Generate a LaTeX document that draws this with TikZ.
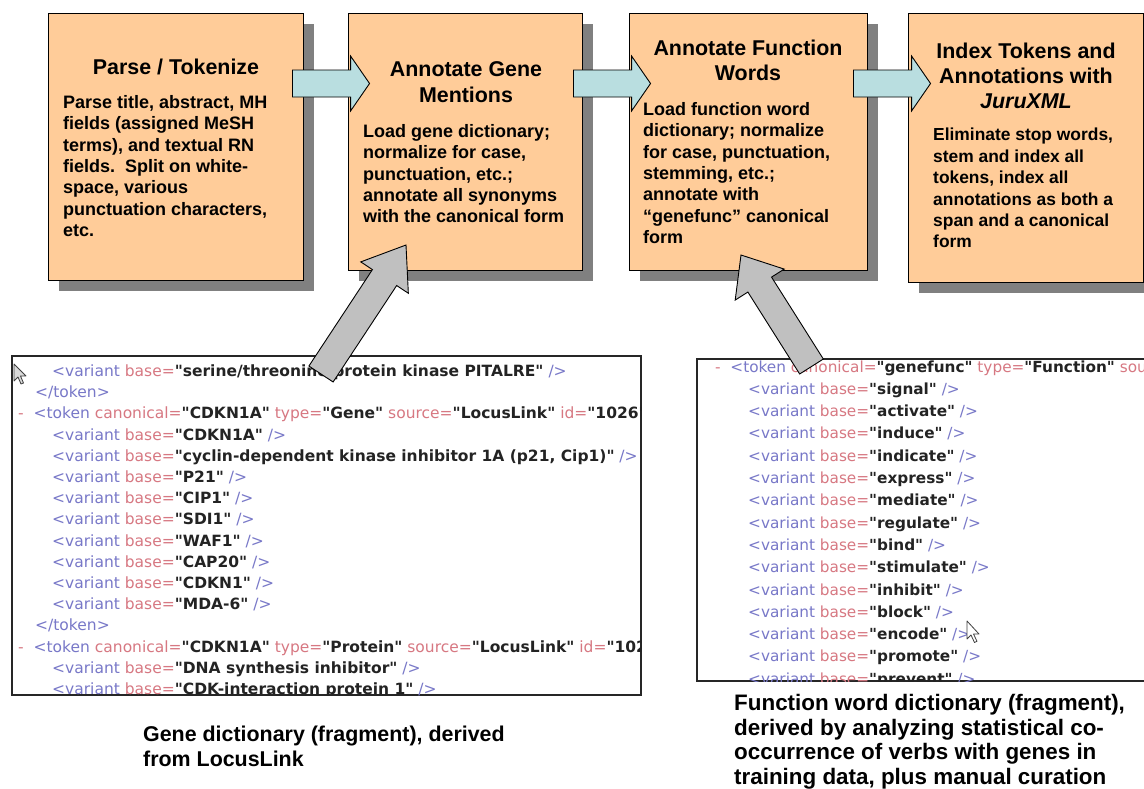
\documentclass[tikz,border=0pt]{standalone}
\usepackage{fontspec}
\setmainfont{Liberation Sans}
\newfontfamily\xmlfont{DejaVu Sans}
\usetikzlibrary{calc,shadows}
\definecolor{peach}{RGB}{255,204,153}
\definecolor{shadowgray}{RGB}{128,128,128}
\definecolor{flowblue}{RGB}{185,222,224}
\definecolor{arrowgray}{RGB}{192,192,192}
\definecolor{tagc}{RGB}{120,120,200}
\definecolor{attc}{RGB}{215,120,130}
\definecolor{valc}{RGB}{35,35,35}
\tikzset{
  procbox/.style={draw=black, line width=0.9pt, fill=peach, inner sep=0pt,
    drop shadow={shadow xshift=11pt, shadow yshift=-11pt, fill=shadowgray, opacity=1}},
  titletext/.style={font=\fontsize{21.4}{25.5}\selectfont\bfseries, align=center, inner sep=0pt, anchor=north},
  bodytext/.style={font=\fontsize{18}{21.4}\selectfont\bfseries, align=left, inner sep=0pt, anchor=north west},
  captext/.style={font=\fontsize{21.4}{25}\selectfont\bfseries, align=left, inner sep=0pt, anchor=north west},
  harrow/.style={draw=black, line width=0.9pt, fill=flowblue, line join=miter},
  garrow/.style={draw=black, line width=0.9pt, fill=arrowgray, line join=miter},
  shotframe/.style={draw=black!85, line width=1.4pt, fill=white, inner sep=0pt},
  xl/.style={anchor=base west, inner sep=0pt, font=\xmlfont\fontsize{15.5}{17}\selectfont},
  xr/.style={anchor=base west, inner sep=0pt, font=\xmlfont\fontsize{15.3}{17}\selectfont},
  cursorshape/.style={draw=black!75, fill=white, line width=0.8pt, line join=round}
}
\newcommand{\fatarrow}[6]{%
  \coordinate (fah) at ($(#3)!#6!(#2)$);
  \draw[#1] ($(#2)!#4!90:(#3)$) -- ($(fah)!#4!90:(#3)$) -- ($(fah)!#5!90:(#3)$) -- (#3)
    -- ($(fah)!#5!-90:(#3)$) -- ($(fah)!#4!-90:(#3)$) -- ($(#2)!#4!-90:(#3)$) -- cycle;}
\newcommand{\xvar}[1]{\textcolor{tagc}{<variant} \textcolor{attc}{base=}\textcolor{valc}{\bfseries"#1"} \textcolor{tagc}{/>}}
\newcommand{\xendtok}{\textcolor{tagc}{</token>}}
\newcommand{\xdash}{\textcolor{attc}{-}}
\newcommand{\xatt}[2]{\textcolor{attc}{#1=}\textcolor{valc}{\bfseries"#2"}}
\begin{document}
\begin{tikzpicture}[x=1pt,y=-1pt]
\useasboundingbox (0,0) rectangle (1144,788);

% process boxes
\node[procbox, minimum width=255pt, minimum height=267pt] (b1) at (175.5,146.5) {};
\node[procbox, minimum width=234pt, minimum height=257pt] (b2) at (465,141.5) {};
\node[procbox, minimum width=238pt, minimum height=257pt] (b3) at (748,141.5) {};
\node[procbox, minimum width=235pt, minimum height=269pt] (b4) at (1025.5,147.5) {};

% box texts
\node[titletext] (t1) at (176,58.6) {Parse / Tokenize};
\node[bodytext] (d1) at (63,95) {Parse title, abstract, MH\\fields (assigned MeSH\\terms), and textual RN\\fields.\ \ Split on white-\\space, various\\punctuation characters,\\etc.};
\node[titletext] (t2) at (466,61.6) {Annotate Gene\\Mentions};
\node[bodytext] (d2) at (363,124) {Load gene dictionary;\\normalize for case,\\punctuation, etc.;\\annotate all synonyms\\with the canonical form};
\node[titletext] (t3) at (748,39.6) {Annotate Function\\Words};
\node[bodytext] (d3) at (643,102) {Load function word\\dictionary; normalize\\for case, punctuation,\\stemming, etc.;\\annotate with\\“genefunc” canonical\\form};
\node[titletext, font=\fontsize{21.4}{25}\selectfont\bfseries] (t4) at (1026,43) {Index Tokens and\\Annotations with\\\itshape JuruXML};
\node[bodytext, font=\fontsize{17.4}{21.4}\selectfont\bfseries] (d4) at (933,128) {Eliminate stop words,\\stem and index all\\tokens, index all\\annotations as both a\\span and a canonical\\form};

% flow arrows between boxes
\coordinate (h1s) at ($(b1.east)+(-11,-63)$);
\coordinate (h1e) at ($(b2.west)+(22,-58)$);
\coordinate (h2s) at ($(b2.east)+(-9,-58)$);
\coordinate (h2e) at ($(b3.west)+(22,-58)$);
\coordinate (h3s) at ($(b3.east)+(-14,-58)$);
\coordinate (h3e) at ($(b4.west)+(23,-64)$);
\fatarrow{harrow}{h1s}{h1e}{13.5pt}{27.5pt}{19pt}
\fatarrow{harrow}{h2s}{h2e}{13.5pt}{27.5pt}{19pt}
\fatarrow{harrow}{h3s}{h3e}{13.5pt}{27.5pt}{19pt}

% gene dictionary screenshot
\node[shotframe, minimum width=629pt, minimum height=339pt] (gd) at (326.5,525.5) {};
\begin{scope}
\clip (gd.north west) rectangle (gd.south east);
\node[xl] (l1) at (52,376.5) {\xvar{serine/threonine protein kinase PITALRE}};
\node[xl] (l2) at (35,397.7) {\xendtok};
\node[xl] (l3) at (18,418.9) {\xdash\ \ \textcolor{tagc}{<token} \xatt{canonical}{CDKN1A} \xatt{type}{Gene} \xatt{source}{LocusLink} \xatt{id}{1026}\textcolor{tagc}{>}};
\node[xl] (l4) at (52,440.1) {\xvar{CDKN1A}};
\node[xl] (l5) at (52,461.3) {\xvar{cyclin-dependent kinase inhibitor 1A (p21, Cip1)}};
\node[xl] (l6) at (52,482.5) {\xvar{P21}};
\node[xl] (l7) at (52,503.7) {\xvar{CIP1}};
\node[xl] (l8) at (52,524.9) {\xvar{SDI1}};
\node[xl] (l9) at (52,546.1) {\xvar{WAF1}};
\node[xl] (l10) at (52,567.3) {\xvar{CAP20}};
\node[xl] (l11) at (52,588.5) {\xvar{CDKN1}};
\node[xl] (l12) at (52,609.7) {\xvar{MDA-6}};
\node[xl] (l13) at (35,630.9) {\xendtok};
\node[xl] (l14) at (18,652.1) {\xdash\ \ \textcolor{tagc}{<token} \xatt{canonical}{CDKN1A} \xatt{type}{Protein} \xatt{source}{LocusLink} \xatt{id}{1026}\textcolor{tagc}{>}};
\node[xl] (l15) at (52,673.3) {\xvar{DNA synthesis inhibitor}};
\node[xl] (l16) at (52,694.5) {\xvar{CDK-interaction protein 1}};
\draw[cursorshape, fill=black!15] (14,364) -- ++(0,17) -- ++(4,-4) -- ++(3,7) -- ++(2.5,-1) -- ++(-3,-7) -- ++(5.5,0) -- cycle;
\end{scope}

% function word dictionary screenshot
\node[shotframe, minimum width=453pt, minimum height=322pt] (fd) at (923.5,520) {};
\begin{scope}
\clip (fd.north west) rectangle (fd.south east);
\node[xr] (r1) at (715,372) {\xdash\ \ \textcolor{tagc}{<token} \xatt{canonical}{genefunc} \xatt{type}{Function} \xatt{source}{manual}};
\node[xr] (r2) at (748,394.3) {\xvar{signal}};
\node[xr] (r3) at (748,416.6) {\xvar{activate}};
\node[xr] (r4) at (748,438.9) {\xvar{induce}};
\node[xr] (r5) at (748,461.2) {\xvar{indicate}};
\node[xr] (r6) at (748,483.5) {\xvar{express}};
\node[xr] (r7) at (748,505.8) {\xvar{mediate}};
\node[xr] (r8) at (748,528.1) {\xvar{regulate}};
\node[xr] (r9) at (748,550.4) {\xvar{bind}};
\node[xr] (r10) at (748,572.7) {\xvar{stimulate}};
\node[xr] (r11) at (748,595) {\xvar{inhibit}};
\node[xr] (r12) at (748,617.3) {\xvar{block}};
\node[xr] (r13) at (748,639.6) {\xvar{encode}};
\node[xr] (r14) at (748,661.9) {\xvar{promote}};
\node[xr] (r15) at (748,684.2) {\xvar{prevent}};
\draw[cursorshape] (967,621) -- ++(0,18) -- ++(4,-4) -- ++(3.5,7.5) -- ++(2.5,-1.2) -- ++(-3.5,-7.3) -- ++(5.5,0) -- cycle;
\end{scope}

% gray arrows from dictionaries to boxes
\coordinate (g1s) at (321,374);
\coordinate (g1e) at (406,245);
\fatarrow{garrow}{g1s}{g1e}{14.5pt}{28.5pt}{39pt}
\coordinate (g2s) at (811.5,366.5);
\coordinate (g2e) at (741,255);
\fatarrow{garrow}{g2s}{g2e}{14pt}{29pt}{35pt}

% captions
\node[captext] (c1) at (143,725.6) {Gene dictionary (fragment), derived\\from LocusLink};
\node[captext, font=\fontsize{22.4}{24.7}\selectfont\bfseries] (c2) at (734,694) {Function word dictionary (fragment),\\derived by analyzing statistical co-\\occurrence of verbs with genes in\\training data, plus manual curation};
\end{tikzpicture}
\end{document}
